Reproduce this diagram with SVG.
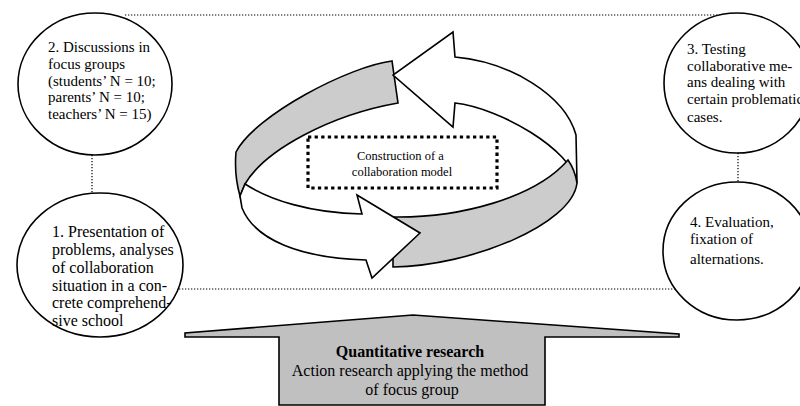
<svg xmlns="http://www.w3.org/2000/svg" width="800" height="406" viewBox="0 0 800 406">
<style>
  .node { fill: #ffffff; stroke: #000000; stroke-width: 1.6; }
  .t { font-family: "Liberation Serif", "Times New Roman", serif; fill: #000000; }
  .dot { fill: none; stroke: #000000; stroke-width: 1.2; stroke-dasharray: 1.3 1.7; }
  .rib { stroke: #000000; stroke-width: 1.6; stroke-linejoin: miter; }
  .g { fill: #cccccc; }
  .w { fill: #ffffff; }
</style>
<rect width="800" height="406" fill="#ffffff"/>

<g id="connectors">
  <line class="dot" x1="125" y1="15" x2="720" y2="15"/>
  <line class="dot" x1="92" y1="155" x2="92" y2="193"/>
  <line class="dot" x1="738" y1="153" x2="738" y2="182"/>
  <line class="dot" x1="179" y1="289" x2="675" y2="289"/>
</g>

<g id="node2">
  <ellipse class="node" cx="95" cy="84" rx="77" ry="71"/>
  <text class="t" font-size="15">
    <tspan x="48" y="52">2. Discussions in</tspan>
    <tspan x="48" y="69">focus groups</tspan>
    <tspan x="48" y="86">(students’ N = 10;</tspan>
    <tspan x="48" y="102">parents’ N = 10;</tspan>
    <tspan x="48" y="119">teachers’ N = 15)</tspan>
  </text>
</g>

<g id="node1">
  <ellipse class="node" cx="100" cy="265" rx="83" ry="72"/>
  <text class="t" font-size="16">
    <tspan x="52" y="237">1. Presentation of</tspan>
    <tspan x="52" y="255">problems, analyses</tspan>
    <tspan x="52" y="273">of collaboration</tspan>
    <tspan x="52" y="291">situation in a con-</tspan>
    <tspan x="52" y="308">crete comprehend-</tspan>
    <tspan x="52" y="326">sive school</tspan>
  </text>
</g>

<g id="node3">
  <ellipse class="node" cx="737" cy="83" rx="73" ry="70"/>
  <text class="t" font-size="15">
    <tspan x="687" y="54">3. Testing</tspan>
    <tspan x="687" y="71">collaborative me-</tspan>
    <tspan x="687" y="87">ans dealing with</tspan>
    <tspan x="687" y="104">certain problematic</tspan>
    <tspan x="687" y="122">cases.</tspan>
  </text>
</g>

<g id="node4">
  <ellipse class="node" cx="737" cy="251" rx="74" ry="69"/>
  <text class="t" font-size="15">
    <tspan x="690" y="227">4. Evaluation,</tspan>
    <tspan x="690" y="244">fixation of</tspan>
    <tspan x="690" y="264">alternations.</tspan>
  </text>
</g>

<g id="cycle">
  <path class="rib g" d="M392,61 C350,66 255,115 236,152 Q234,175 240,196 L245,184 C265,150 330,115 398,103 Z"/>
  <path class="rib w" d="M455,57 C510,62 565,95 576,135 L577,183 C572,150 500,108 455,103 L453,127 L393,75 L453,32 Z"/>
  <path class="rib g" d="M393,217 C460,218 535,198 568,160 Q575,170 577,183 C572,225 470,266 393,267 Z"/>
  <path class="rib w" d="M245,184 C270,200 310,213 362,214 L357,195 L420,233 L372,278 L366,260 C300,258 255,240 242,208 L240,196 Z"/>
</g>

<g id="center">
  <rect x="308" y="137" width="189" height="51" fill="none" stroke="#000000" stroke-width="3.2" stroke-dasharray="3.3 3.3"/>
  <text class="t" font-size="12.5" text-anchor="middle">
    <tspan x="402" y="160">Construction of a</tspan>
    <tspan x="402" y="176">collaboration model</tspan>
  </text>
</g>

<g id="research">
  <polygon points="185,337 185,333 413,315 679,334 679,337 545,337 545,405 279,405 279,337" fill="#c0c0c0" stroke="#000000" stroke-width="1.6"/>
  <text class="t" font-size="16" text-anchor="middle">
    <tspan x="412" y="357" font-weight="bold">Quantitative research</tspan>
    <tspan x="412" y="376">Action research applying the method</tspan>
    <tspan x="412" y="395">of focus group</tspan>
  </text>
</g>
</svg>
